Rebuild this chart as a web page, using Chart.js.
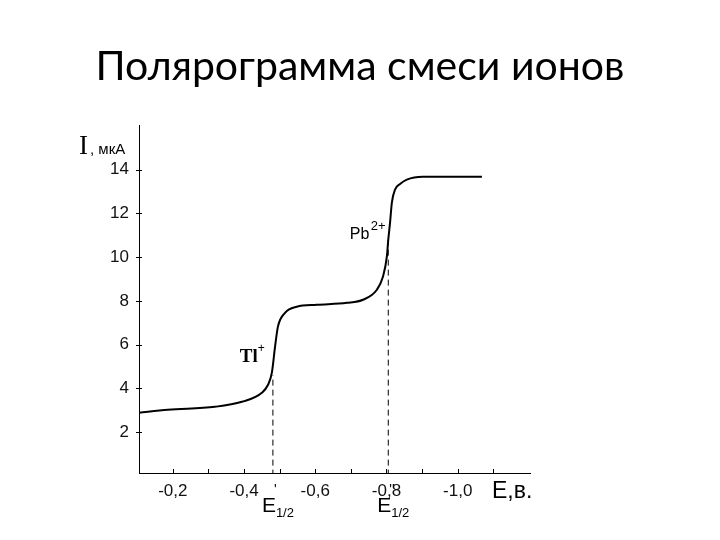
<!DOCTYPE html>
<html>
<head>
<meta charset="utf-8">
<script src="https://cdn.jsdelivr.net/npm/chart.js@4.4.0/dist/chart.umd.min.js"></script>
<style>
  html, body { margin: 0; padding: 0; background: #fff; }
  #wrap { position: relative; width: 720px; height: 540px; }
  #title { position: absolute; left: 0; top: 40px; width: 720px; text-align: center;
           font-family: Lato, 'Open Sans', sans-serif; font-size: 41px; color: #000; }
</style>
</head>
<body>
<div id="wrap">
  <div id="title">Полярограмма смеси ионов</div>
  <canvas id="polaro" width="720" height="540"></canvas>
</div>
<script>
    // Polarogram curve: potential E (V) and current I (uA)
    const potential = [-0.102, -0.186, -0.318, -0.394, -0.450, -0.467, -0.478, -0.487, -0.495, -0.515,
                       -0.548, -0.604, -0.689, -0.734, -0.773, -0.790, -0.801, -0.805, -0.810, -0.815,
                       -0.824, -0.838, -0.857, -0.902, -1.068];
    const current = [2.87, 3.01, 3.15, 3.38, 3.79, 4.15, 4.70, 5.89, 6.81, 7.45,
                     7.73, 7.82, 7.91, 8.05, 8.51, 9.10, 10.02, 10.80, 11.58, 12.49,
                     13.09, 13.35, 13.55, 13.68, 13.68];

    // Half-wave potentials (dashed verticals) and their heights
    const halfWaveE = [-0.481, -0.805];
    const halfWaveTop = [4.6, 10.9];

    const xTicks = [-0.2, -0.3, -0.4, -0.5, -0.6, -0.7, -0.8, -0.9, -1.0, -1.1];
    const xLabels = ['-0,2', '', '-0,4', '', '-0,6', '', '-0,8', '', '-1,0', ''];
    const yTicks = [2, 4, 6, 8, 10, 12, 14];

    const curve = potential.map((e, i) => ({ x: e, y: current[i] }));
    const dashSets = halfWaveE.map((e, i) => ({
        data: [{ x: e, y: 0 }, { x: e, y: halfWaveTop[i] }],
        borderColor: '#000',
        borderWidth: 1,
        borderDash: [6, 4],
        pointRadius: 0
    }));

    // Inward tick marks and text annotations
    const extras = {
        id: 'extras',
        afterDraw(chart) {
            const ctx = chart.ctx;
            const xs = chart.scales.x, ys = chart.scales.y;
            const area = chart.chartArea;
            ctx.save();
            ctx.strokeStyle = '#000';
            ctx.lineWidth = 1;
            xTicks.forEach(v => {
                const px = Math.round(xs.getPixelForValue(v)) + 0.5;
                ctx.beginPath();
                ctx.moveTo(px, area.bottom);
                ctx.lineTo(px, area.bottom - 4);
                ctx.stroke();
            });
            yTicks.forEach(v => {
                const py = Math.round(ys.getPixelForValue(v)) + 0.5;
                ctx.beginPath();
                ctx.moveTo(area.left - 3, py);
                ctx.lineTo(area.left + 3, py);
                ctx.stroke();
            });

            ctx.fillStyle = '#000';
            ctx.textBaseline = 'alphabetic';
            ctx.textAlign = 'left';
            // axis titles
            ctx.font = '27px "Liberation Serif"';
            ctx.fillText('I', area.left - 60, area.top + 29);
            ctx.font = '15px "Liberation Sans"';
            ctx.fillText(', мкА', area.left - 49, area.top + 29);
            ctx.font = '23px "Liberation Sans"';
            ctx.fillText('Е,в.', area.right - 38, area.bottom + 25);

            // ion labels
            let px = xs.getPixelForValue(-0.388), py = ys.getPixelForValue(5.2);
            ctx.font = 'bold 19px "Liberation Serif"';
            ctx.fillText('Tl', px, py);
            ctx.font = '12px "Liberation Sans"';
            ctx.fillText('+', px + 18, py - 10);

            px = xs.getPixelForValue(-0.697); py = ys.getPixelForValue(10.83);
            ctx.font = '16px "Liberation Sans"';
            ctx.fillText('Pb', px, py);
            ctx.font = '13px "Liberation Sans"';
            ctx.fillText('2+', px + 21, py - 9);

            // half-wave labels under the axis
            const primes = ["'", "''"];
            halfWaveE.forEach((e, i) => {
                const x0 = xs.getPixelForValue(e) - 11;
                const y0 = area.bottom + 39;
                ctx.font = '21px "Liberation Sans"';
                ctx.fillText('E', x0, y0);
                ctx.font = '14px "Liberation Sans"';
                ctx.fillText(primes[i], x0 + 12, y0 - 18);
                ctx.font = '13px "Liberation Sans"';
                ctx.fillText('1/2', x0 + 14, y0 + 5);
            });
            ctx.restore();
        }
    };

    const config = {
        type: 'line',
        data: {
            datasets: [{
                data: curve,
                borderColor: '#000',
                borderWidth: 2,
                pointRadius: 0,
                cubicInterpolationMode: 'monotone'
            }, ...dashSets]
        },
        options: {
            responsive: false,
            animation: false,
            layout: { padding: { left: 0, top: 125, right: 190, bottom: 0 } },
            plugins: { legend: { display: false }, tooltip: { enabled: false } },
            scales: {
                x: {
                    type: 'linear',
                    reverse: true,
                    min: -1.203,
                    max: -0.105,
                    afterBuildTicks: s => { s.ticks = xTicks.map(v => ({ value: v })); },
                    afterFit: s => { s.height = 67; },
                    border: { display: true, color: '#000', width: 1 },
                    grid: { display: false },
                    ticks: {
                        autoSkip: false,
                        maxRotation: 0,
                        padding: 0,
                        color: '#111',
                        font: { family: 'Liberation Sans', size: 17 },
                        callback: (v, i) => xLabels[i]
                    }
                },
                y: {
                    min: 0.12,
                    max: 16.05,
                    afterBuildTicks: s => { s.ticks = yTicks.map(v => ({ value: v })); },
                    afterFit: s => { s.width = 139; },
                    border: { display: true, color: '#000', width: 1 },
                    grid: { display: false },
                    ticks: {
                        padding: 2,
                        color: '#111',
                        font: { family: 'Liberation Sans', size: 17 }
                    }
                }
            }
        },
        plugins: [extras]
    };

    const polaroChart = new Chart(document.getElementById('polaro'), config);
</script>
</body>
</html>
